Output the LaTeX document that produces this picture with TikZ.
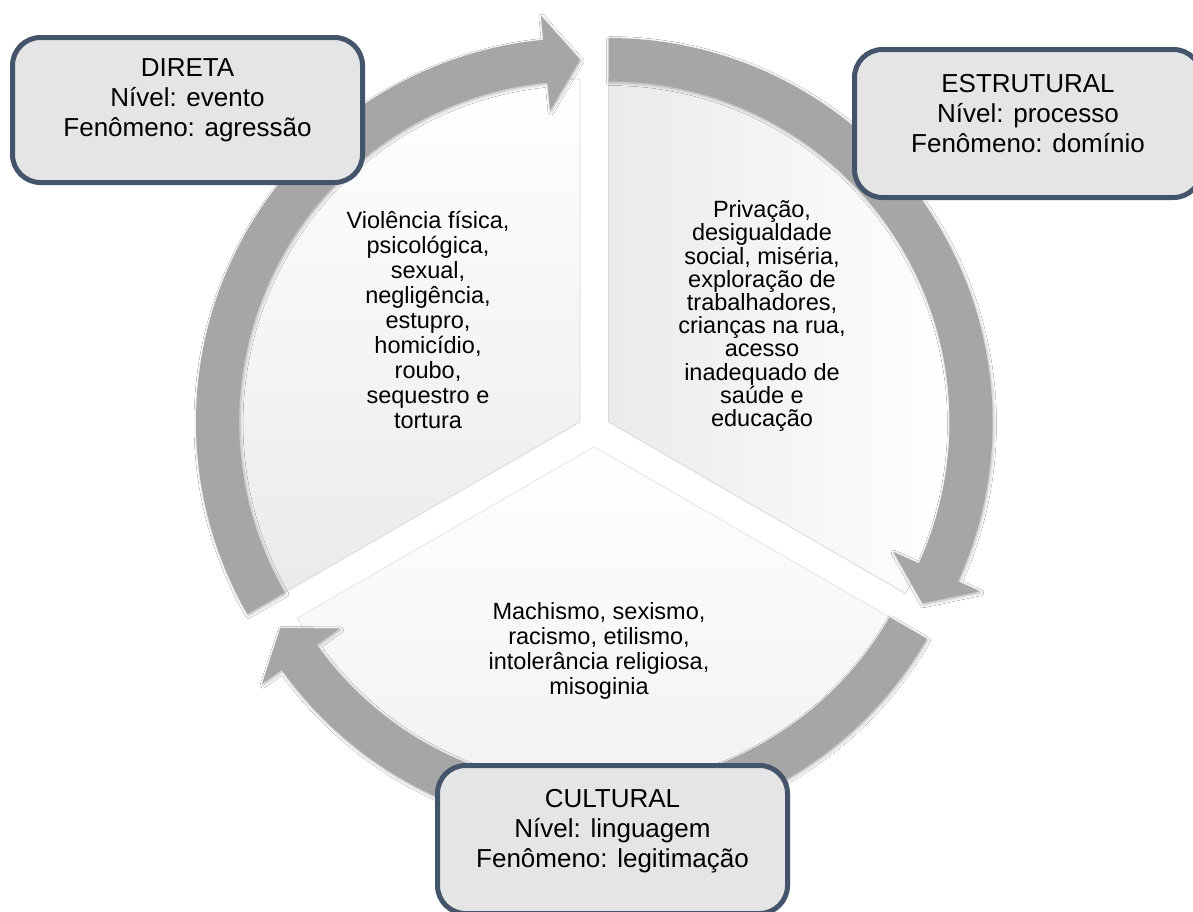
\documentclass[tikz,border=0pt]{standalone}
\usepackage{fontspec}
\setmainfont{Liberation Sans}
\usetikzlibrary{calc,shadows.blur}
\definecolor{ringgray}{RGB}{166,166,166}
\definecolor{boxfill}{RGB}{229,229,229}
\definecolor{boxline}{RGB}{68,84,106}
\begin{document}
\begin{tikzpicture}[x=1pt,y=1pt,
  boxstyle/.style={draw=boxline, line width=5pt, fill=boxfill, rounded corners=28pt, inner sep=0pt},
  arrowstyle/.style={fill=ringgray, blur shadow={shadow xshift=1pt, shadow yshift=-1.5pt, shadow blur radius=3pt, shadow opacity=30}},
  boxtext/.style={align=center, font=\fontsize{26}{30}\selectfont, inner sep=0pt},
  segtext/.style={align=center, font=\fontsize{23.5}{25}\selectfont, inner sep=0pt},
  segedge/.style={draw=black!15, line width=0.8pt}
]
\useasboundingbox (0,0) rectangle (1193,-911);
\clip (0,0) rectangle (1193,-911);
\fill[white] (0,0) rectangle (1193,-911);

\coordinate (L) at (580,-422);
\coordinate (R) at (608.5,-422);
\coordinate (B) at (594.25,-446.7);

% pie segments
\path[segedge, top color=white, bottom color=gray!16]
  (L) -- ($(L)+(210:343pt)$) arc[start angle=210,end angle=90,radius=343pt] -- cycle;
\path[segedge, left color=gray!16, right color=white]
  (R) -- ($(R)+(90:343pt)$) arc[start angle=90,end angle=-30,radius=343pt] -- cycle;
\path[segedge, draw=black!10, top color=white, bottom color=gray!12]
  (B) -- ($(B)+(330:343pt)$) arc[start angle=330,end angle=210,radius=343pt] -- cycle;

% circular arrows
\path[arrowstyle] ($(L)+(210:384pt)$) arc[start angle=210,end angle=95.5,radius=384pt]
  -- ($(L)+(95.5:408pt)$) -- ($(L)+(90:362.5pt)$) -- ($(L)+(95.5:313pt)$)
  -- ($(L)+(95.5:341pt)$) arc[start angle=95.5,end angle=210,radius=341pt] -- cycle;
\path[arrowstyle] ($(R)+(90:384pt)$) arc[start angle=90,end angle=-24.5,radius=384pt]
  -- ($(R)+(-24.5:408pt)$) -- ($(R)+(-30:362.5pt)$) -- ($(R)+(-24.5:313pt)$)
  -- ($(R)+(-24.5:341pt)$) arc[start angle=-24.5,end angle=90,radius=341pt] -- cycle;
\path[arrowstyle] ($(B)+(330:384pt)$) arc[start angle=330,end angle=215.5,radius=384pt]
  -- ($(B)+(215.5:408pt)$) -- ($(B)+(210:362.5pt)$) -- ($(B)+(215.5:313pt)$)
  -- ($(B)+(215.5:341pt)$) arc[start angle=215.5,end angle=330,radius=341pt] -- cycle;

% segment texts
\node[segtext] (t1) at (428,-320) {Violência física,\\psicológica,\\sexual,\\negligência,\\estupro,\\homicídio,\\roubo,\\sequestro e\\tortura};
\node[segtext, font=\fontsize{23.5}{23.2}\selectfont] (t2) at (762,-316) {Privação,\\desigualdade\\social, miséria,\\exploração de\\trabalhadores,\\crianças na rua,\\acesso\\inadequado de\\saúde e\\educação};
\node[segtext] (t3) at (599,-650.5) {Machismo, sexismo,\\racismo, etilismo,\\intolerância religiosa,\\misoginia};

% boxes
\node[boxstyle, minimum width=350pt, minimum height=145pt] (direta) at (187.5,-110) {};
\node[boxtext] (directaT) at (187.5,-100) {DIRETA\\Nível: evento\\Fenômeno: agressão};
\node[boxstyle, minimum width=347pt, minimum height=148pt] (estrutural) at (1028,-123.5) {};
\node[boxtext] (estruturalT) at (1028,-114) {ESTRUTURAL\\Nível: processo\\Fenômeno: domínio};
\node[boxstyle, minimum width=350pt, minimum height=148pt] (cultural) at (612.5,-839.5) {};
\node[boxtext] (culturalT) at (612.5,-831) {CULTURAL\\Nível: linguagem\\Fenômeno: legitimação};
\end{tikzpicture}
\end{document}
